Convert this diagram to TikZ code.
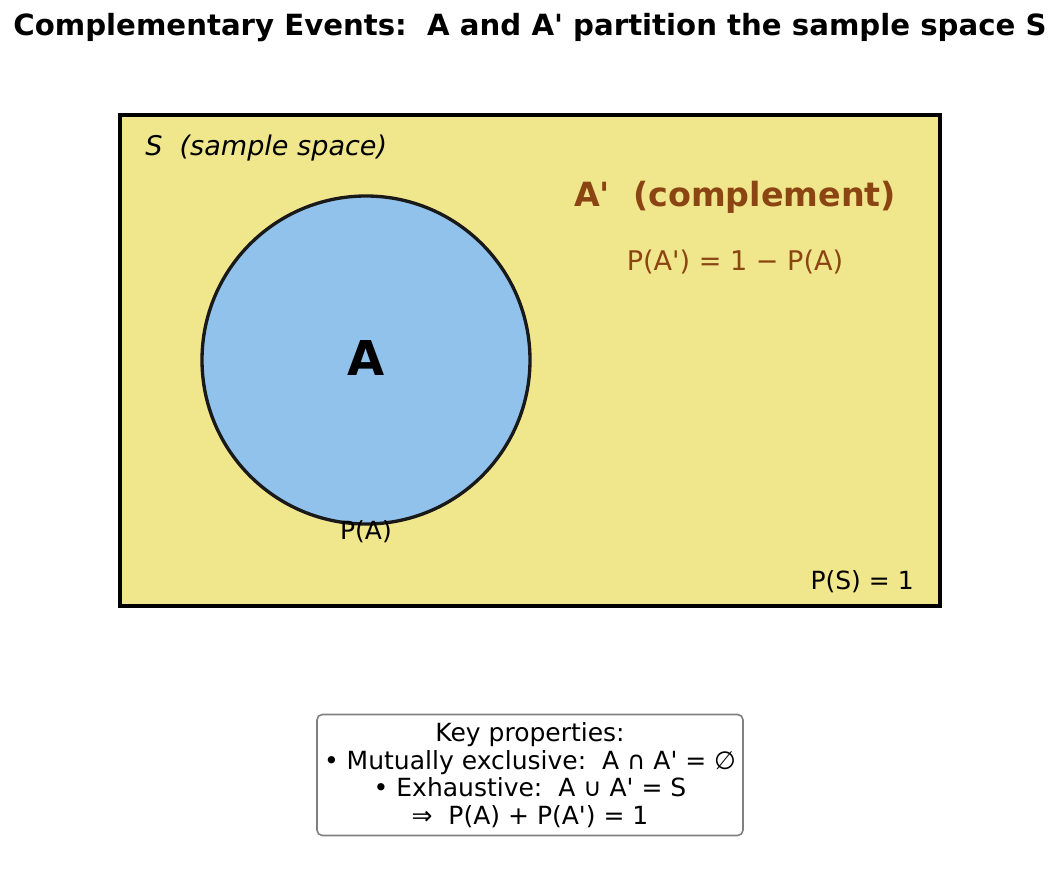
\documentclass[tikz,border=0pt]{standalone}
\usepackage{fontspec}
\setmainfont{DejaVu Sans}[Ligatures=TeXOff]
\definecolor{khakibg}{HTML}{F0E68C}
\definecolor{setblue}{HTML}{90C2EC}
\definecolor{brownA}{HTML}{8B4513}
\newcommand{\fsz}[1]{\fontsize{#1}{1.2\dimexpr#1pt\relax}\selectfont}

\begin{document}
\begin{tikzpicture}[x=0.75pt,y=-0.75pt,
  txt/.style={inner sep=0pt,font=\fsz{20.3}},
  space/.style={draw=black,line width=3.4pt,fill=khakibg,minimum width=615pt,minimum height=368pt,inner sep=0pt},
  event/.style={circle,draw=black!90,line width=2.5pt,fill=setblue,minimum size=246pt,inner sep=0pt},
  keybox/.style={draw=gray,line width=1.2pt,rounded corners=4pt,fill=white,align=center,minimum width=319.5pt,minimum height=90.75pt,inner sep=2pt,font=\fontsize{18.75}{20.6}\selectfont}]
\useasboundingbox (0,0) rectangle (1060,884);
\node[txt,font=\fsz{21.9}\bfseries] (title) at (530,28) {Complementary Events:\ \ A and A' partition the sample space S};
\node[space] (S) at (530,360.5) {};
\node[event] (A) at (366,360) {};
\node[txt,font=\fsz{36}\bfseries] (Albl) at (366,358) {A};
\node[txt,anchor=west,font=\fsz{20.3}\itshape] (Slbl) at (145,148) {S\ \ (sample space)};
\node[txt,text=brownA,font=\fsz{25}\bfseries] (comp) at (735,197) {A'\ \ (complement)};
\node[txt,text=brownA] (pcomp) at (735,262) {P(A') = 1 − P(A)};
\node[txt,font=\fsz{18.75}] (pA) at (366,532) {P(A)};
\node[txt,anchor=east,font=\fsz{18.75}] (pS) at (914,582) {P(S) = 1};
\node[keybox] (key) at (530,775) {Key properties:\\• Mutually exclusive:\ \ A ∩ A' = ∅\\• Exhaustive:\ \ A ∪ A' = S\\⇒\ \ P(A) + P(A') = 1};
\end{tikzpicture}
\end{document}
